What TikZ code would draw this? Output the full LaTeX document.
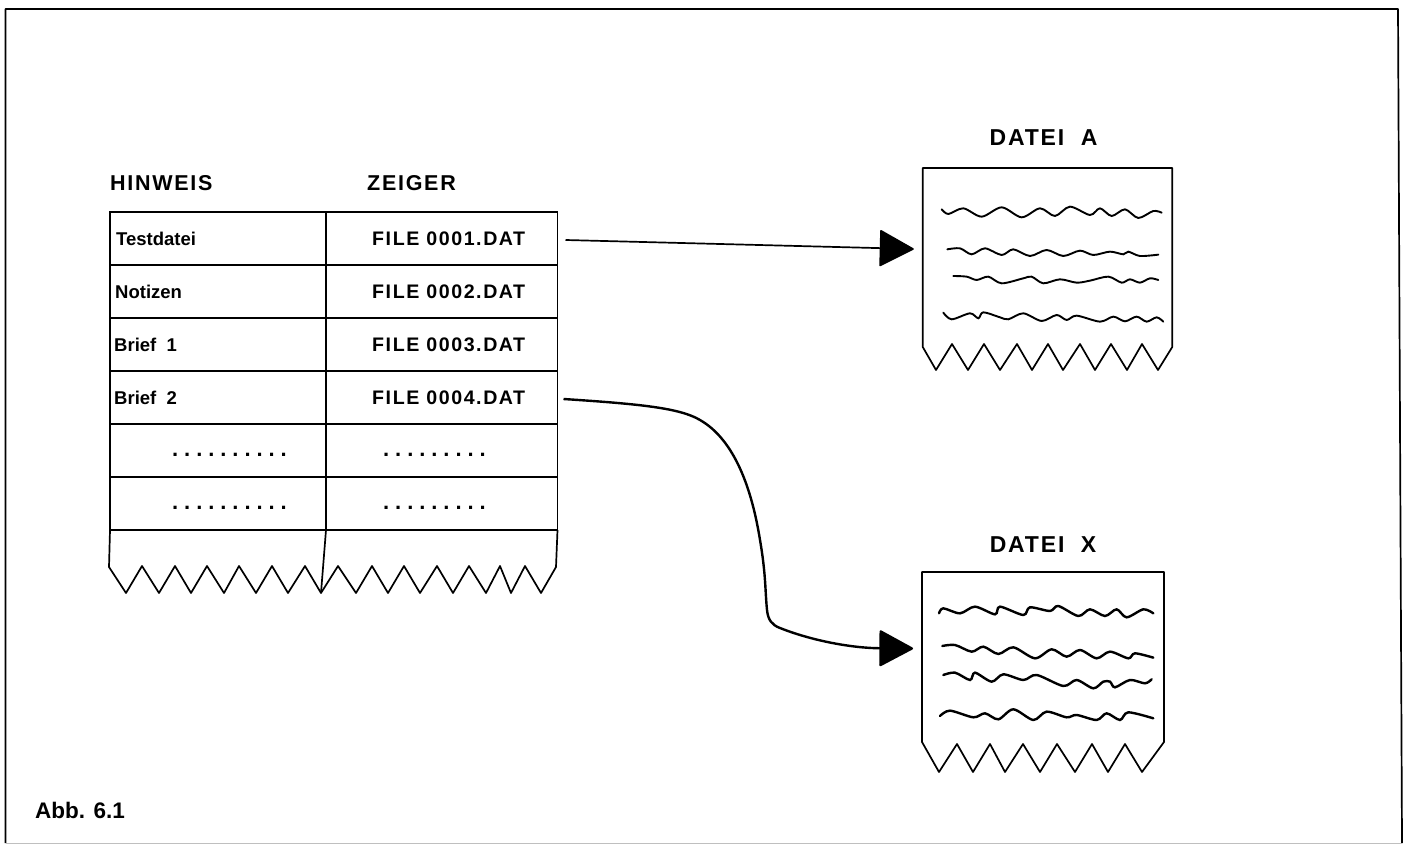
\documentclass[tikz,border=0pt]{standalone}
\usepackage{fontspec}
\setmainfont{Liberation Sans}
\newfontfamily\sperrfont[LetterSpace=8]{Liberation Sans}
\newfontfamily\punktefont[LetterSpace=27]{Liberation Sans}
\usetikzlibrary{arrows.meta,positioning}

\begin{document}
\begin{tikzpicture}[
  x=1pt, y=-1pt,
  linie/.style={draw=black, line width=1.7pt, line join=round},
  welle/.style={draw=black, line width=1.9pt, line cap=round},
  cell/.style={draw=black, line width=1.5pt, inner sep=0pt, outer sep=0pt, minimum height=53pt},
  hintcell/.style={cell, minimum width=216pt},
  zeigercell/.style={cell, minimum width=231.5pt},
  seite/.style={inner sep=0pt, outer sep=0pt},
  titel/.style={inner sep=0pt, font=\sperrfont\bfseries\fontsize{21.5}{24}\selectfont},
  dateititel/.style={inner sep=0pt, font=\sperrfont\bfseries\fontsize{23}{26}\selectfont},
  hinweis/.style={inner sep=0pt, font=\bfseries\fontsize{18.5}{22}\selectfont},
  datei/.style={inner sep=0pt, font=\sperrfont\bfseries\fontsize{19.6}{22}\selectfont},
  punkte/.style={inner sep=0pt, yshift=-4.5pt, font=\punktefont\bfseries\fontsize{22}{24}\selectfont},
  abb/.style={inner sep=0pt, font=\bfseries\fontsize{22.5}{26}\selectfont},
  pfeil/.style={-{Triangle[length=35pt,width=37pt,round]}, draw=black, line width=1.7pt}
]
\useasboundingbox (0,0) rectangle (1408,845);

% Rahmen
\draw[linie] (5.5,843) -- (5.5,9) -- (1398,9) -- (1402,843);
\draw[black!25, line width=0.8pt] (5.5,843) -- (1402,843);

% Tabelle
\node[hintcell] (hint1) at (218,238.5) {};
\node[zeigercell, right=0pt of hint1] (zeiger1) {};
\foreach \n [remember=\n as \p (initially 1)] in {2,...,6} {
  \node[hintcell, below=0pt of hint\p] (hint\n) {};
  \node[zeigercell, below=0pt of zeiger\p] (zeiger\n) {};
}

\node[titel, above right=21pt and 0pt of hint1.north west] (hinweistitel) {HINWEIS};
\node[titel, above right=21pt and 41pt of zeiger1.north west] (zeigertitel) {ZEIGER};

\node[hinweis, right=6pt of hint1.west] (testdatei) {Testdatei};
\node[hinweis, right=5pt of hint2.west] (notizen) {Notizen};
\node[hinweis, right=4pt of hint3.west] (brief1) {Brief~~1};
\node[hinweis, right=4pt of hint4.west] (brief2) {Brief~~2};
\node[punkte, right=62pt of hint5.west] (punkte1) {..........};
\node[punkte, right=62pt of hint6.west] (punkte2) {..........};

\node[datei, right=46pt of zeiger1.west] (file1) {FILE 0001.DAT};
\node[datei, right=46pt of zeiger2.west] (file2) {FILE 0002.DAT};
\node[datei, right=46pt of zeiger3.west] (file3) {FILE 0003.DAT};
\node[datei, right=46pt of zeiger4.west] (file4) {FILE 0004.DAT};
\node[punkte, right=57pt of zeiger5.west] (punkte3) {.........};
\node[punkte, right=57pt of zeiger6.west] (punkte4) {.........};

% Abriss unten
\draw[linie] (hint6.south west) -- (109,567) -- (126,593) -- (142,566) -- (159,593) -- (175,566)
  -- (191,593) -- (207,566) -- (224,593) -- (239,566) -- (256,593) -- (272,566) -- (288,593)
  -- (305,566) -- (321,593) -- (338,566) -- (356,593) -- (372,566) -- (388,593) -- (404,566)
  -- (420,593) -- (437,566) -- (453,593) -- (469,566) -- (486,593) -- (500,566) -- (511,593)
  -- (525,566) -- (541,593) -- (556,567) -- (zeiger6.south east);
\draw[linie] (hint6.south east) -- (321,593);

% Dateien
\node[seite, minimum width=249.5pt, minimum height=179pt] (dateiA) at (1047.5,257.5) {};
\node[seite, minimum width=242pt, minimum height=170pt] (dateiX) at (1043,657) {};

\node[dateititel, above=22pt of dateiA.north, xshift=-4pt] (titelA) {DATEI~~A};
\node[dateititel, above=19pt of dateiX.north] (titelX) {DATEI~~X};

\draw[linie] (dateiA.south west) |- (dateiA.north east) -- (dateiA.south east) -- (1158,370)
  -- (1142,344) -- (1127,370) -- (1111,344) -- (1095,370) -- (1080,344) -- (1063,370)
  -- (1048,344) -- (1032,370) -- (1017,344) -- (1000,370) -- (984,344) -- (968,370)
  -- (952,344) -- (936,370) -- cycle;
\draw[linie] (dateiX.south west) |- (dateiX.north east) -- (dateiX.south east) -- (1142,772)
  -- (1125,744) -- (1108,772) -- (1092,744) -- (1075,772) -- (1057,744) -- (1040,772)
  -- (1023,744) -- (1005,772) -- (990,744) -- (973,772) -- (957,744) -- (939,772) -- cycle;

% Textzeilen
\begin{scope}[shift={(860,120)}, x=0.3333pt, y=-0.3333pt]
  \draw[welle] plot[smooth] coordinates {(245,268) (265,282) (310,265) (365,290) (425,262) (485,292) (540,265) (585,288) (630,260) (690,285) (720,265) (755,288) (795,268) (835,294) (880,273) (905,278)};
  \draw[welle] plot[smooth] coordinates {(262,388) (300,385) (335,403) (375,385) (425,405) (460,388) (510,408) (560,390) (610,408) (660,392) (700,405) (750,395) (790,403) (805,395) (840,408) (895,404)};
  \draw[welle] plot[smooth] coordinates {(280,468) (320,470) (350,480) (385,470) (425,490) (490,475) (515,470) (550,490) (600,478) (650,488) (690,482) (745,470) (785,488) (810,478) (840,488) (870,475) (895,480)};
  \draw[welle] plot[smooth] coordinates {(250,578) (275,598) (330,580) (355,595) (370,577) (420,592) (445,598) (490,580) (545,603) (590,585) (620,600) (650,587) (720,605) (760,590) (795,604) (830,590) (860,605) (890,592) (910,605)};
\end{scope}
\begin{scope}[shift={(860,530)}, x=0.3333pt, y=-0.3333pt, welle/.append style={line width=2.4pt}]
  \draw[welle] plot[smooth] coordinates {(237,250) (250,235) (300,250) (345,230) (405,253) (420,230) (490,255) (510,232) (570,243) (595,228) (655,258) (690,238) (735,258) (770,238) (800,262) (850,238) (880,250)};
  \draw[welle] plot[smooth] coordinates {(247,348) (285,345) (335,365) (370,350) (415,372) (460,352) (525,385) (575,358) (620,380) (660,360) (710,385) (750,365) (805,385) (825,370) (880,383)};
  \draw[welle] plot[smooth] coordinates {(250,435) (285,428) (330,450) (345,428) (395,455) (430,433) (490,450) (530,435) (610,468) (650,450) (700,475) (730,455) (750,455) (765,472) (810,450) (855,460) (875,448)};
  \draw[welle] plot[smooth] coordinates {(240,558) (270,542) (340,562) (375,550) (415,568) (460,538) (520,570) (560,545) (620,562) (650,555) (710,570) (740,550) (780,570) (805,547) (880,565)};
\end{scope}

% Pfeile
\coordinate (einA) at ([xshift=-9pt,yshift=8.5pt]dateiA.west);
\coordinate (einX) at ([xshift=-9pt,yshift=8.5pt]dateiX.west);
\draw[pfeil] ([xshift=8pt,yshift=-1.5pt]zeiger1.east) -- (einA);
\draw[pfeil, line width=2.4pt] ([xshift=6pt,yshift=-1.5pt]zeiger4.east)
  .. controls (640,404) and (680,408) .. (700,420)
  .. controls (735,440) and (752,490) .. (760,540)
  .. controls (766,575) and (765,590) .. (767,610)
  .. controls (768,620) and (772,625) .. (780,628)
  .. controls (810,640) and (850,648) .. (einX);

\node[abb, anchor=base west] (abbildung) at (35,818) {Abb. 6.1};

\end{tikzpicture}
\end{document}
